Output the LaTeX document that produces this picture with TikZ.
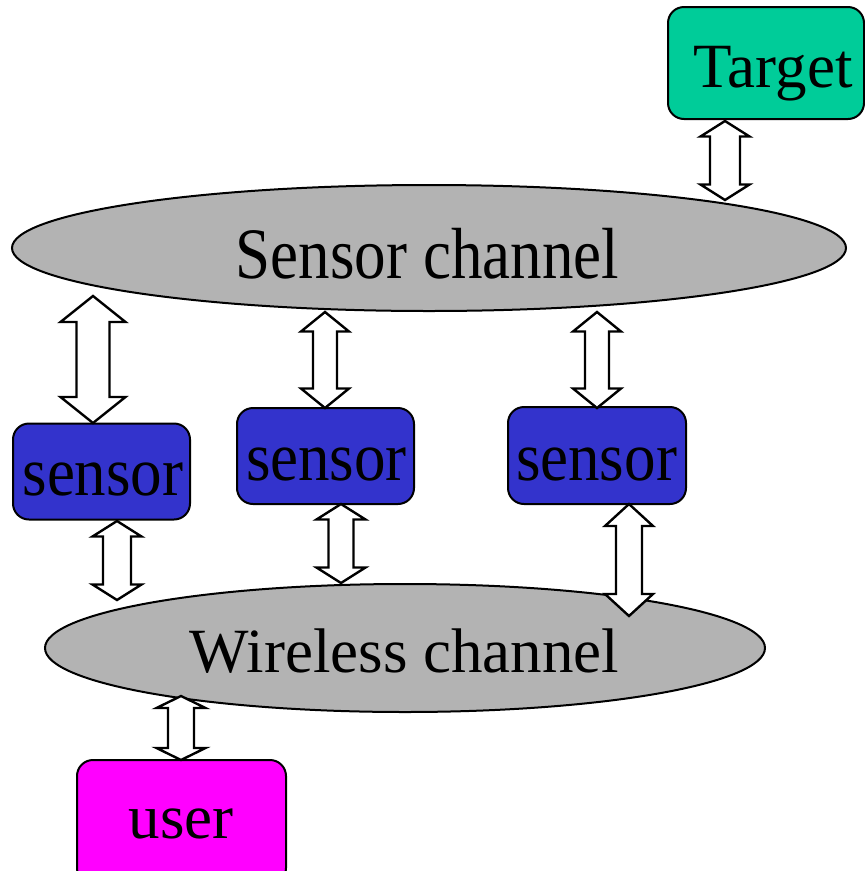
\documentclass[tikz,border=0pt]{standalone}
\usepackage{fontspec}
\setmainfont{Liberation Serif}
\usetikzlibrary{shapes.geometric}
\definecolor{chgray}{HTML}{B3B3B3}
\definecolor{sensblue}{HTML}{3333CC}
\definecolor{targgreen}{HTML}{00CC99}
\definecolor{usermag}{HTML}{FF00FF}
\newcommand\dblarr[6]{%
  \pgfmathsetmacro\dblAh{#4/2}\pgfmathsetmacro\dblAs{#5/2}%
  \draw[blkarrow] (#1,#2) -- (#1+\dblAh,#2+#6) -- (#1+\dblAs,#2+#6) -- (#1+\dblAs,#3-#6) -- (#1+\dblAh,#3-#6) -- (#1,#3) -- (#1-\dblAh,#3-#6) -- (#1-\dblAs,#3-#6) -- (#1-\dblAs,#2+#6) -- (#1-\dblAh,#2+#6) -- cycle;}
\begin{document}
\begin{tikzpicture}[x=1pt,y=-1pt,
  channel/.style={ellipse,draw=black,line width=2pt,fill=chgray,inner sep=0pt},
  box/.style={rectangle,draw=black,line width=2pt,rounded corners=16pt,inner sep=0pt},
  lbl/.style={anchor=base,inner sep=0pt,font=\fontsize{63}{70}\selectfont},
  blkarrow/.style={draw=black,fill=white,line width=2.4pt,line join=miter}]
\useasboundingbox (0,0) rectangle (865,871);
% channels
\node[channel,minimum width=834pt,minimum height=126pt] (sc) at (429,248) {};
\node[channel,minimum width=720pt,minimum height=128pt] (wc) at (405,648) {};
% boxes
\node[box,fill=targgreen,minimum width=196pt,minimum height=112pt] (target) at (766,63) {};
\node[box,fill=sensblue,minimum width=177pt,minimum height=96pt] (s1) at (101.5,471.5) {};
\node[box,fill=sensblue,minimum width=177pt,minimum height=96pt] (s2) at (325.5,456) {};
\node[box,fill=sensblue,minimum width=178pt,minimum height=97pt] (s3) at (597,455.5) {};
\node[box,fill=usermag,minimum width=209pt,minimum height=124pt] (user) at (181.5,822) {};
% labels
\node[lbl] (tsc) at (427.5,278) {\scalebox{1}[1.15]{Sensor channel}};
\node[lbl] (twc) at (404.5,672) {Wireless channel};
\node[lbl] (tt) at (773,87) {Target};
\node[lbl] (ts1) at (103,495) {\scalebox{1}[1.1]{sensor}};
\node[lbl] (ts2) at (326.5,480) {\scalebox{1}[1.1]{sensor}};
\node[lbl] (ts3) at (596.5,480) {\scalebox{1}[1.1]{sensor}};
\node[lbl] (tu) at (181,838) {user};
% double block arrows: x, ytop, ybot, head width, shaft width, head length
\dblarr{725}{121}{200}{49}{30}{15.5}
\dblarr{93}{296}{423}{65}{33}{26}
\dblarr{325}{312}{408}{48}{24}{19.5}
\dblarr{597}{312}{408}{48}{24}{19.5}
\dblarr{117}{521}{600}{49}{28}{15.5}
\dblarr{341}{504}{583}{49}{25}{15.5}
\dblarr{629}{504}{616}{48}{26}{22}
\dblarr{181}{696}{760}{49}{26}{12}
\end{tikzpicture}
\end{document}
